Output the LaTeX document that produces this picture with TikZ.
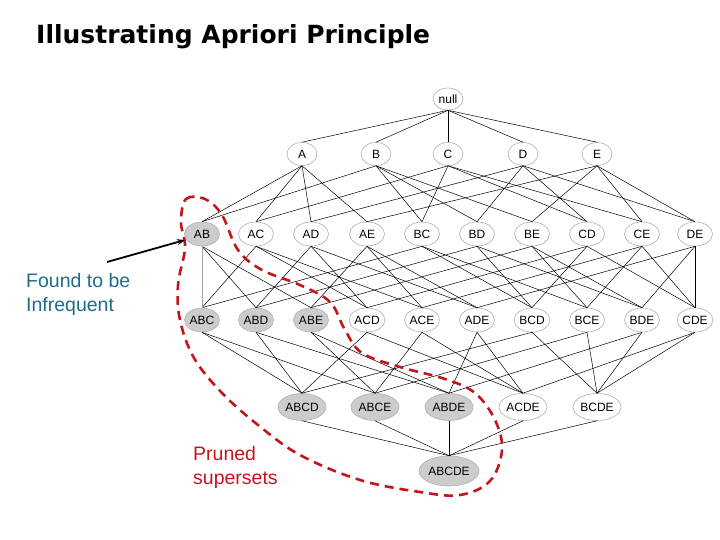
\documentclass[tikz,border=0pt]{standalone}
\usepackage{fontspec}
\setmainfont{Liberation Sans}
\newfontfamily\titlefont{DejaVu Sans}
\usetikzlibrary{shapes.geometric,arrows.meta}
\definecolor{nodeline}{RGB}{175,175,175}
\definecolor{shade}{RGB}{204,204,204}
\definecolor{foundcol}{RGB}{31,108,138}
\definecolor{prunecol}{RGB}{196,20,28}
\tikzset{
  item/.style={ellipse,draw=nodeline,line width=0.6pt,inner sep=0pt,font=\fontsize{12}{12}\selectfont},
  lone/.style={item,minimum width=30pt,minimum height=23pt},
  ltwo/.style={item,minimum width=35pt,minimum height=24pt},
  lfour/.style={item,minimum width=48pt,minimum height=27pt},
  lfive/.style={item,minimum width=60pt,minimum height=30pt},
  infreq/.style={fill=shade},
  edge/.style={line width=0.5pt,black},
  lbl/.style={anchor=base west,inner sep=0pt,font=\fontsize{19.5}{24}\selectfont},
}
\begin{document}
\begin{tikzpicture}[x=1pt,y=-1pt]
\useasboundingbox (0,0) rectangle (720,540);
\node[anchor=base west,inner sep=0pt,font=\titlefont\bfseries\fontsize{25}{30}\selectfont] (title) at (36,44) {Illustrating Apriori Principle};
% nodes
\node[lone,minimum width=30pt,minimum height=22pt] (null) at (448,99) {null};
\foreach \n/\x in {A/302,B/376,C/448,D/523,E/597}
  \node[lone] (\n) at (\x,154) {\n};
\foreach \n/\x in {AC/256,AD/311,AE/367,BC/422,BD/477,BE/532,CD/587,CE/642,DE/695}
  \node[ltwo] (\n) at (\x,234) {\n};
\node[ltwo,infreq] (AB) at (202,234) {AB};
\foreach \n/\x in {ACD/367,ACE/422,ADE/477,BCD/532,BCE/587,BDE/642,CDE/695}
  \node[ltwo] (\n) at (\x,320) {\n};
\foreach \n/\x in {ABC/202,ABD/256,ABE/311}
  \node[ltwo,infreq] (\n) at (\x,320) {\n};
\foreach \n/\x in {ABCD/302,ABCE/375,ABDE/449}
  \node[lfour,infreq] (\n) at (\x,407) {\n};
\foreach \n/\x in {ACDE/523,BCDE/597}
  \node[lfour] (\n) at (\x,407) {\n};
\node[lfive,infreq] (ABCDE) at (449,471) {ABCDE};
% edges
\foreach \a/\b in {null/A,null/B,null/C,null/D,null/E,
  A/AB,A/AC,A/AD,A/AE,B/AB,B/BC,B/BD,B/BE,C/AC,C/BC,C/CD,C/CE,
  D/AD,D/BD,D/CD,D/DE,E/AE,E/BE,E/CE,E/DE,
  AC/ABC,BC/ABC,AB/ABD,AD/ABD,BD/ABD,AB/ABE,AE/ABE,BE/ABE,
  AC/ACD,AD/ACD,CD/ACD,AC/ACE,AE/ACE,CE/ACE,AD/ADE,AE/ADE,DE/ADE,
  BC/BCD,BD/BCD,CD/BCD,BC/BCE,BE/BCE,CE/BCE,BD/BDE,BE/BDE,DE/BDE,
  CD/CDE,CE/CDE,DE/CDE,
  ABC/ABCD,ABD/ABCD,ACD/ABCD,BCD/ABCD,ABC/ABCE,ABE/ABCE,ACE/ABCE,BCE/ABCE,
  ABD/ABDE,ABE/ABDE,ADE/ABDE,BDE/ABDE,ACD/ACDE,ACE/ACDE,ADE/ACDE,CDE/ACDE,
  BCD/BCDE,BCE/BCDE,BDE/BCDE,CDE/BCDE,
  ABCD/ABCDE,ABCE/ABCDE,ABDE/ABCDE,ACDE/ABCDE,BCDE/ABCDE}
  \draw[edge] (\a.south) -- (\b.north);
\draw[line width=0.6pt,gray!70] (AB.south) -- (ABC.north);
% pruned region
\draw[prunecol,line width=2.6pt,dash pattern=on 9pt off 6pt] plot[smooth cycle,tension=0.6] coordinates {
 (181,222) (186,199) (205,199) (222,215) (238,250) (262,270) (300,285) (330,302)
 (345,330) (362,353) (400,367) (445,379) (475,393) (495,420) (502,450) (490,481)
 (460,495) (420,492) (360,480) (300,455) (258,425) (222,393) (194,358) (180,320)
 (178,285) (185,248)};
% labels
\node[lbl,text=foundcol] (found1) at (26,287) {Found to be};
\node[lbl,text=foundcol] (found2) at (26,311) {Infrequent};
\node[lbl,text=prunecol] (prune1) at (193,460) {Pruned};
\node[lbl,text=prunecol] (prune2) at (193,484) {supersets};
\coordinate (arrS) at (107,262);
\coordinate (arrE) at (185,240);
\draw[line width=1.8pt,-{Stealth[length=8pt,width=6pt]}] (arrS) -- (arrE);
\end{tikzpicture}
\end{document}
